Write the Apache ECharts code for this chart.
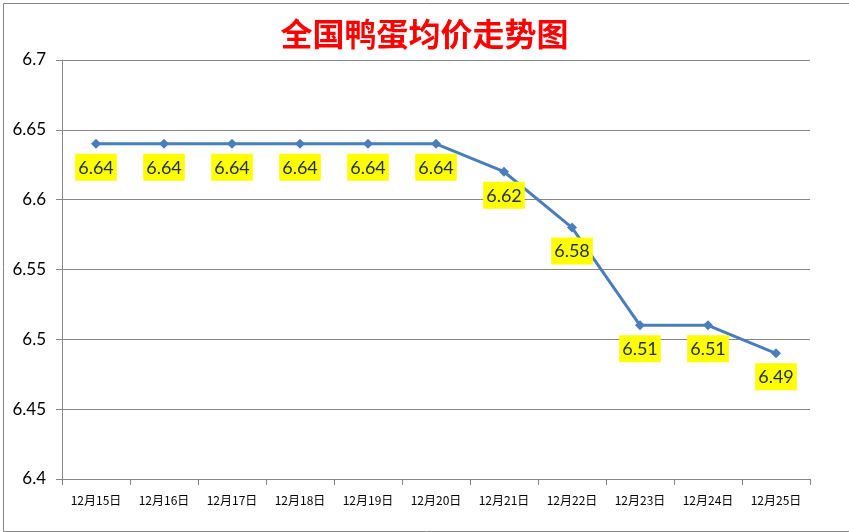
<!DOCTYPE html>
<html>
<head>
<meta charset="utf-8">
<script src="https://cdn.jsdelivr.net/npm/echarts@6/dist/echarts.min.js"></script>
<style>
  html, body { margin: 0; padding: 0; background: #fff; }
  #chart { width: 849px; height: 532px; }
</style>
</head>
<body>
<div id="chart"></div>
<script>
// categories and values
const days = ["12月15日", "12月16日", "12月17日", "12月18日", "12月19日", "12月20日",
    "12月21日", "12月22日", "12月23日", "12月24日", "12月25日"];
const prices = [6.64, 6.64, 6.64, 6.64, 6.64, 6.64, 6.62, 6.58, 6.51, 6.51, 6.49];
const titleText = "全国鸭蛋均价走势图";

const gray = "#868686";

let chart = echarts.init(document.getElementById("chart"));

let option = {
    animation: false,
    backgroundColor: "#fff",
    title: {
        text: titleText,
        left: "center",
        top: 13,
        textStyle: {
            color: "#ff0000",
            fontSize: 32,
            fontWeight: "bold",
            fontFamily: "Noto Sans CJK SC"
        }
    },
    graphic: [{
        type: "rect",
        left: 1, top: 1,
        shape: { width: 846, height: 528 },
        style: { fill: "none", stroke: gray, lineWidth: 1 },
        silent: true
    }],
    grid: { left: 62, right: 39, top: 60, bottom: 53 },
    xAxis: {
        type: "category",
        data: days,
        boundaryGap: true,
        axisLine: { lineStyle: { color: gray } },
        axisTick: { show: true, length: 6, lineStyle: { color: gray } },
        axisLabel: { color: "#000", fontSize: 12, margin: 15, fontFamily: "Noto Sans CJK SC" }
    },
    yAxis: {
        type: "value",
        min: 6.4,
        max: 6.7,
        interval: 0.05,
        axisLine: { show: true, lineStyle: { color: gray } },
        axisTick: { show: true, length: 6, lineStyle: { color: gray } },
        splitLine: { lineStyle: { color: gray } },
        axisLabel: {
            color: "#000", fontSize: 17, margin: 16, fontFamily: "Lato",
            formatter: v => String(parseFloat(v.toFixed(2)))
        }
    },
    series: [{
        type: "line",
        data: prices,
        symbol: "diamond",
        symbolSize: 10,
        lineStyle: { color: "#4a7ebb", width: 3 },
        itemStyle: { color: "#4a7ebb" },
        label: {
            show: true,
            position: "bottom",
            distance: 5,
            color: "#1f2d4d",
            fontSize: 18,
            fontFamily: "Lato",
            backgroundColor: "#ffff00",
            padding: [5, 3, 4, 3],
            formatter: p => p.value.toFixed(2)
        }
    }]
};

chart.setOption(option);
</script>
</body>
</html>
